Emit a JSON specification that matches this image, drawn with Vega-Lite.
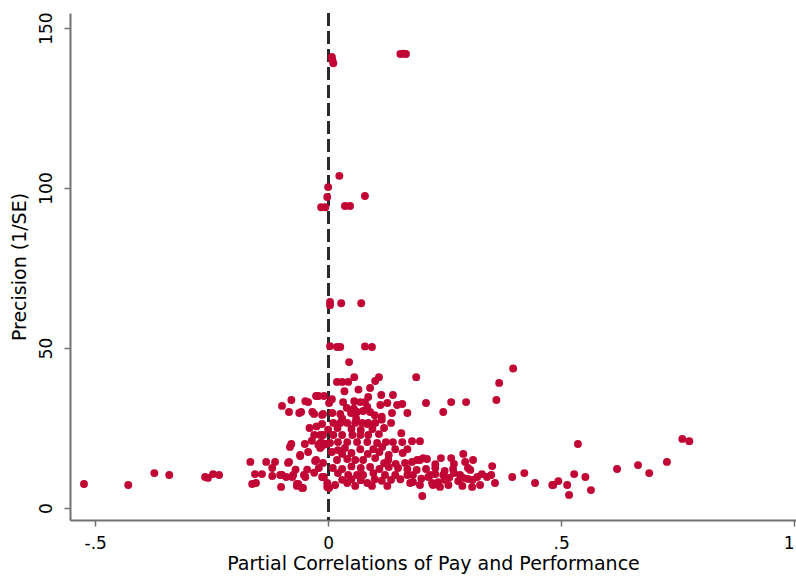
{
  "$schema": "https://vega.github.io/schema/vega-lite/v6.json",
  "autosize": {"type": "none"},
  "width": 726,
  "height": 507,
  "padding": {"left": 70, "top": 13, "right": 0, "bottom": 61},
  "background": "white",
  "config": {"view": {"stroke": null}, "font": "DejaVu Sans"},
  "data": {"values": [
    {"r": -0.524, "p": 7.5}, {"r": -0.429, "p": 7.2}, {"r": -0.373, "p": 10.9}, {"r": -0.341, "p": 10.3},
    {"r": -0.264, "p": 9.7}, {"r": -0.247, "p": 10.6}, {"r": -0.234, "p": 10.3}, {"r": -0.258, "p": 9.4},
    {"r": -0.167, "p": 14.4}, {"r": -0.133, "p": 14.4}, {"r": -0.114, "p": 14.4}, {"r": -0.084, "p": 14.4},
    {"r": -0.157, "p": 10.6}, {"r": -0.142, "p": 10.6}, {"r": -0.12, "p": 10}, {"r": -0.103, "p": 10.3},
    {"r": -0.09, "p": 9.7}, {"r": -0.077, "p": 9.7}, {"r": -0.163, "p": 7.5}, {"r": -0.155, "p": 7.8},
    {"r": -0.101, "p": 6.6}, {"r": -0.067, "p": 7.5}, {"r": -0.054, "p": 6.25}, {"r": -0.002, "p": 6.6},
    {"r": -0.052, "p": 10.3}, {"r": -0.013, "p": 9.7}, {"r": -0.009, "p": 9.7}, {"r": -0.064, "p": 7.5},
    {"r": -0.099, "p": 31.9}, {"r": -0.079, "p": 33.75}, {"r": -0.084, "p": 30}, {"r": -0.058, "p": 30},
    {"r": -0.049, "p": 33.4}, {"r": -0.043, "p": 33.1}, {"r": -0.034, "p": 30}, {"r": -0.03, "p": 29.4},
    {"r": -0.021, "p": 35}, {"r": -0.009, "p": 35}, {"r": -0.013, "p": 29.1}, {"r": -0.013, "p": 26.25},
    {"r": -0.03, "p": 22.8}, {"r": -0.011, "p": 22.8}, {"r": -0.082, "p": 19.1}, {"r": -0.06, "p": 16.6},
    {"r": -0.043, "p": 17.5}, {"r": -0.021, "p": 19.7}, {"r": -0.013, "p": 20.3}, {"r": -0.004, "p": 20},
    {"r": -0.028, "p": 14.7}, {"r": -0.011, "p": 14.1}, {"r": -0.062, "p": 29.7}, {"r": -0.079, "p": 20},
    {"r": 0.045, "p": 45.6},
    {"r": 0.019, "p": 39.4}, {"r": 0.03, "p": 39.4}, {"r": 0.043, "p": 39.4}, {"r": 0.056, "p": 40.9},
    {"r": 0.101, "p": 39.7}, {"r": 0.109, "p": 40.9}, {"r": 0.189, "p": 40.9},
    {"r": -0.026, "p": 35}, {"r": 0.002, "p": 32.8}, {"r": 0.032, "p": 33.1}, {"r": 0.056, "p": 33.4},
    {"r": 0.069, "p": 33.1}, {"r": 0.086, "p": 34.7}, {"r": 0.079, "p": 33.1}, {"r": 0.114, "p": 35.3},
    {"r": 0.139, "p": 35.3}, {"r": 0.112, "p": 32.2}, {"r": 0.127, "p": 32.8}, {"r": 0.148, "p": 32.2},
    {"r": 0.159, "p": 32.5}, {"r": 0.21, "p": 32.8}, {"r": 0.264, "p": 33.1}, {"r": 0.296, "p": 33.1},
    {"r": 0.361, "p": 33.75}, {"r": 0.008, "p": 34}, {"r": 0.367, "p": 39.1}, {"r": 0.397, "p": 43.6},
    {"r": -0.011, "p": 29.4}, {"r": 0.009, "p": 29.7}, {"r": 0.026, "p": 29.4}, {"r": 0.049, "p": 29.7},
    {"r": 0.062, "p": 30}, {"r": 0.075, "p": 30.3}, {"r": 0.084, "p": 31.6}, {"r": 0.137, "p": 29.7},
    {"r": 0.17, "p": 29.7}, {"r": 0.247, "p": 30},
    {"r": 0.011, "p": 26.6}, {"r": 0.026, "p": 26.6}, {"r": 0.041, "p": 26.6}, {"r": 0.058, "p": 26.6},
    {"r": 0.073, "p": 26.6}, {"r": 0.086, "p": 26.6}, {"r": 0.101, "p": 26.6}, {"r": 0.084, "p": 26.25},
    {"r": -0.017, "p": 22.8}, {"r": 0.011, "p": 22.8}, {"r": 0.03, "p": 22.8}, {"r": 0.052, "p": 22.8},
    {"r": 0.069, "p": 22.8}, {"r": 0.086, "p": 22.8}, {"r": 0.109, "p": 23.1}, {"r": 0.157, "p": 23.4},
    {"r": -0.017, "p": 20.3}, {"r": 0.004, "p": 20.3}, {"r": 0.021, "p": 20.6}, {"r": 0.041, "p": 20.6},
    {"r": 0.062, "p": 20.6}, {"r": 0.084, "p": 20.6}, {"r": 0.105, "p": 20.3}, {"r": 0.124, "p": 20.6},
    {"r": 0.139, "p": 20.6}, {"r": 0.159, "p": 20.6}, {"r": 0.18, "p": 20.9}, {"r": 0.197, "p": 20.9},
    {"r": -0.013, "p": 19.4},
    {"r": -0.017, "p": 18.75}, {"r": 0.021, "p": 18.1}, {"r": 0.036, "p": 18.75}, {"r": 0.069, "p": 18.4},
    {"r": 0.097, "p": 18.4}, {"r": 0.116, "p": 19.1}, {"r": 0.144, "p": 18.4}, {"r": 0.008, "p": 17.5},
    {"r": -0.086, "p": 14.1}, {"r": -0.06, "p": 16.25}, {"r": -0.026, "p": 15}, {"r": 0.019, "p": 15},
    {"r": 0.041, "p": 15.3}, {"r": 0.058, "p": 15}, {"r": 0.075, "p": 15}, {"r": 0.101, "p": 15.6},
    {"r": 0.129, "p": 15}, {"r": 0.18, "p": 14.4}, {"r": 0.197, "p": 15}, {"r": 0.212, "p": 15.3},
    {"r": 0.242, "p": 15.6}, {"r": 0.264, "p": 15.6}, {"r": 0.29, "p": 16.9}, {"r": 0.311, "p": 15},
    {"r": 0.294, "p": 14.4}, {"r": 0.191, "p": 15}, {"r": 0.204, "p": 15.6}, {"r": 0.352, "p": 13.1},
    {"r": -0.099, "p": 10.3}, {"r": -0.075, "p": 10.3}, {"r": -0.049, "p": 9.7}, {"r": -0.011, "p": 9.7},
    {"r": 0.021, "p": 10.9}, {"r": 0.043, "p": 10.3}, {"r": 0.062, "p": 10.3}, {"r": 0.075, "p": 10.3},
    {"r": 0.097, "p": 10.9}, {"r": 0.122, "p": 10.3}, {"r": 0.144, "p": 10.3}, {"r": 0.17, "p": 10.3},
    {"r": 0.182, "p": 10.3}, {"r": 0.219, "p": 10.3}, {"r": 0.247, "p": 10.3}, {"r": 0.268, "p": 12.2},
    {"r": 0.283, "p": 10.3}, {"r": 0.305, "p": 11.9}, {"r": 0.32, "p": 9.7}, {"r": 0.341, "p": 9.7},
    {"r": 0.3, "p": 12.5}, {"r": 0.395, "p": 9.7}, {"r": 0.421, "p": 10.9},
    {"r": -0.067, "p": 6.9}, {"r": -0.056, "p": 6.25}, {"r": -0.002, "p": 7.8},
    {"r": 0.015, "p": 7.2}, {"r": 0.041, "p": 7.8}, {"r": 0.058, "p": 6.9}, {"r": 0.084, "p": 7.8},
    {"r": 0.094, "p": 6.9}, {"r": 0.127, "p": 6.9}, {"r": 0.176, "p": 7.8}, {"r": 0.197, "p": 7.2},
    {"r": 0.225, "p": 7.2}, {"r": 0.24, "p": 6.6}, {"r": 0.258, "p": 7.2}, {"r": 0.288, "p": 6.9},
    {"r": 0.309, "p": 6.6}, {"r": 0.002, "p": 6.25}, {"r": 0.202, "p": 3.75}, {"r": 0.223, "p": 7.8},
    {"r": 0.236, "p": 8.1}, {"r": 0.279, "p": 8.4}, {"r": 0.326, "p": 7.2}, {"r": 0.358, "p": 7.8},
    {"r": 0.182, "p": 8.1},
    {"r": 0.01, "p": 12.5}, {"r": 0.03, "p": 12.2}, {"r": 0.05, "p": 13}, {"r": 0.07, "p": 12.5},
    {"r": 0.09, "p": 12.8}, {"r": 0.11, "p": 12.2}, {"r": 0.13, "p": 12.8}, {"r": 0.15, "p": 12.5},
    {"r": 0.17, "p": 12.2}, {"r": 0.19, "p": 11.9}, {"r": 0.21, "p": 12.2}, {"r": 0.23, "p": 12.5},
    {"r": 0.25, "p": 11.6},
    {"r": 0.03, "p": 8.8}, {"r": 0.05, "p": 9}, {"r": 0.07, "p": 8.7}, {"r": 0.1, "p": 9},
    {"r": 0.115, "p": 8.5}, {"r": 0.135, "p": 8.8}, {"r": 0.155, "p": 9}, {"r": 0.2, "p": 9.2},
    {"r": 0.26, "p": 9.5}, {"r": 0.29, "p": 9.4}, {"r": 0.31, "p": 8.8}, {"r": 0.33, "p": 10.6},
    {"r": 0.35, "p": 10.3},
    {"r": 0.03, "p": 16.9}, {"r": 0.05, "p": 17.2}, {"r": 0.085, "p": 16.9}, {"r": 0.11, "p": 17.5},
    {"r": 0.13, "p": 16.6}, {"r": 0.16, "p": 17.2}, {"r": 0.17, "p": 18.4}, {"r": 0.12, "p": 14},
    {"r": 0.145, "p": 13.8}, {"r": 0.165, "p": 14.1}, {"r": 0.23, "p": 13.7}, {"r": 0.27, "p": 13.8},
    {"r": 0.0, "p": 24.5}, {"r": 0.02, "p": 25}, {"r": 0.05, "p": 24.7}, {"r": 0.07, "p": 24.4},
    {"r": 0.095, "p": 24.7}, {"r": 0.12, "p": 25}, {"r": 0.135, "p": 26.6}, {"r": 0.115, "p": 27.6},
    {"r": 0.04, "p": 31.3}, {"r": 0.055, "p": 31}, {"r": 0.09, "p": 30}, {"r": 0.1, "p": 29},
    {"r": 0.115, "p": 28.5}, {"r": 0.06, "p": 28}, {"r": 0.03, "p": 28},
    {"r": 0.035, "p": 36.5}, {"r": 0.065, "p": 37}, {"r": 0.09, "p": 37.5},
    {"r": -0.04, "p": 25}, {"r": -0.025, "p": 25.5}, {"r": -0.05, "p": 20}, {"r": -0.035, "p": 21},
    {"r": -0.045, "p": 12}, {"r": -0.03, "p": 11}, {"r": -0.02, "p": 12.5}, {"r": -0.07, "p": 12},
    {"r": -0.12, "p": 12.5},
    {"r": 0.27, "p": 10.9}, {"r": 0.25, "p": 8.8}, {"r": 0.3, "p": 9.1}, {"r": 0.215, "p": 9.7},
    {"r": 0.23, "p": 10.6},
    {"r": 0.444, "p": 7.8}, {"r": 0.481, "p": 7.2}, {"r": 0.494, "p": 8.4}, {"r": 0.513, "p": 7.2},
    {"r": 0.517, "p": 4.1}, {"r": 0.528, "p": 10.6}, {"r": 0.536, "p": 20}, {"r": 0.552, "p": 9.7},
    {"r": 0.564, "p": 5.6}, {"r": 0.62, "p": 12.2}, {"r": 0.665, "p": 13.4}, {"r": 0.689, "p": 10.9},
    {"r": 0.727, "p": 14.4}, {"r": 0.76, "p": 21.6}, {"r": 0.775, "p": 20.9}, {"r": 0.483, "p": 7.2},
    {"r": 0.008, "p": 141}, {"r": 0.011, "p": 139}, {"r": 0.009, "p": 140},
    {"r": 0.155, "p": 141.9}, {"r": 0.161, "p": 142}, {"r": 0.167, "p": 141.9},
    {"r": 0.024, "p": 103.8}, {"r": 0.0, "p": 100.3}, {"r": -0.002, "p": 97.2}, {"r": 0.079, "p": 97.5},
    {"r": -0.015, "p": 94}, {"r": -0.006, "p": 94}, {"r": 0.036, "p": 94.4}, {"r": 0.047, "p": 94.4},
    {"r": 0.004, "p": 64.4}, {"r": 0.004, "p": 63.4}, {"r": 0.028, "p": 64}, {"r": 0.071, "p": 64},
    {"r": 0.004, "p": 50.6}, {"r": 0.019, "p": 50.3}, {"r": 0.026, "p": 50.3}, {"r": 0.079, "p": 50.5},
    {"r": 0.094, "p": 50.3}
  ]},
  "layer": [
    {
      "mark": {"type": "rule", "color": "#2b2b2b", "strokeWidth": 2, "strokeDash": [13, 5]},
      "encoding": {"x": {"datum": 0, "type": "quantitative"}}
    },
    {
      "mark": {"type": "circle", "size": 62, "color": "#C10534", "opacity": 1},
      "encoding": {
        "x": {
          "field": "r", "type": "quantitative",
          "scale": {"domain": [-0.554, 1.004], "nice": false, "zero": false},
          "axis": {
            "values": [-0.5, 0, 0.5, 1],
            "labelExpr": "datum.value == -0.5 ? '-.5' : datum.value == 0.5 ? '.5' : datum.value == 0 ? '0' : '1'",
            "labelFlush": 5,
            "title": "Partial Correlations of Pay and Performance",
            "grid": false, "domainColor": "#707070", "domainWidth": 2, "tickColor": "#707070", "tickWidth": 1.5, "tickSize": 6,
            "labelFontSize": 17, "labelColor": "#000", "labelPadding": 9, "labelFont": "DejaVu Sans",
            "titleFontSize": 19, "titleFontWeight": "normal", "titleColor": "#000", "titlePadding": 3, "titleFont": "DejaVu Sans"
          }
        },
        "y": {
          "field": "p", "type": "quantitative",
          "scale": {"domain": [-3.75, 154.7], "nice": false, "zero": false},
          "axis": {
            "values": [0, 50, 100, 150],
            "title": "Precision (1/SE)",
            "grid": false, "domainColor": "#707070", "domainWidth": 2, "tickColor": "#707070", "tickWidth": 1.5, "tickSize": 6,
            "labelAngle": -90, "labelAlign": "center", "labelBaseline": "bottom", "labelFontSize": 17, "labelColor": "#000", "labelPadding": 9, "labelFont": "DejaVu Sans",
            "titleFontSize": 19, "titleFontWeight": "normal", "titleColor": "#000", "titlePadding": 8, "titleFont": "DejaVu Sans"
          }
        }
      }
    }
  ]
}
